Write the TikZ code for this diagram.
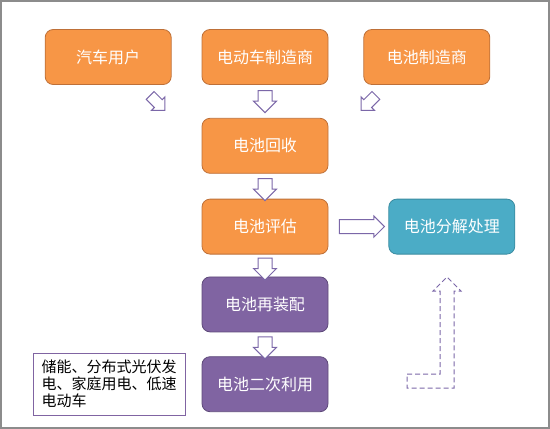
\documentclass[tikz,border=0pt]{standalone}
\usepackage{fontspec}
\setmainfont{Noto Sans CJK SC}
\usepackage{tikz}
\usetikzlibrary{shapes.arrows,positioning,calc}
\definecolor{boxOrange}{HTML}{F79646}
\definecolor{boxOrangeDark}{HTML}{BE7038}
\definecolor{boxPurple}{HTML}{8064A2}
\definecolor{boxPurpleDark}{HTML}{5E4A7A}
\definecolor{boxTeal}{HTML}{4BACC6}
\definecolor{boxTealDark}{HTML}{3A8BA0}
\definecolor{flowPurple}{HTML}{7B67A8}
\definecolor{frameGray}{HTML}{8C8C8C}

\begin{document}
\begin{tikzpicture}[
    x=1pt, y=-1pt,
    font=\fontsize{16}{19}\selectfont,
    box/.style={draw, rectangle, rounded corners=8pt, minimum height=55pt, minimum width=126pt, align=center, text=white, line width=0.8pt},
    orangebox/.style={box, fill=boxOrange, draw=boxOrangeDark},
    purplebox/.style={box, fill=boxPurple, draw=boxPurpleDark},
    tealbox/.style={box, fill=boxTeal, draw=boxTealDark},
    notebox/.style={draw=boxPurple, rectangle, line width=0.8pt, minimum height=62pt, minimum width=152pt, inner xsep=7pt, align=left, font=\fontsize{15}{17}\selectfont},
    flow/.style={single arrow, draw=flowPurple, fill=white, line width=1pt, inner xsep=0pt, inner ysep=6.5pt, minimum height=22pt, single arrow head extend=4.5pt},
    smallflow/.style={flow, inner ysep=5pt, minimum height=21pt, single arrow head extend=4pt}
]
    \useasboundingbox (0,0) rectangle (550,429);
    \draw[frameGray, line width=2pt] (1,1) rectangle (549,428);

    % Top row
    \node[orangebox] (evmaker) at (265,57) {电动车制造商};
    \node[orangebox, left=30pt of evmaker] (user) {汽车用户};
    \node[orangebox, right=35pt of evmaker] (batmaker) {电池制造商};

    % Main chain
    \node[orangebox, below=33pt of evmaker] (recycle) {电池回收};
    \node[orangebox, below=25pt of recycle] (assess) {电池评估};
    \node[tealbox, right=60pt of assess] (dismantle) {电池分解处理};
    \node[purplebox, below=22pt of assess] (reassemble) {电池再装配};
    \node[purplebox, below=24pt of reassemble] (reuse) {电池二次利用};
    \node[notebox, left=16pt of reuse] (usage) {储能、分布式光伏发\\电、家庭用电、低速\\电动车};

    % Block arrows
    \node[smallflow, rotate=-45] (f1) at ($(user.south east)+(-16,16)$) {};
    \node[flow, rotate=-90] (f2) at ($(evmaker.south)!0.4!(recycle.north)$) {};
    \node[smallflow, rotate=-135] (f3) at ($(batmaker.south west)+(7,16)$) {};
    \node[flow, rotate=-90] (f4) at ($(recycle.south)!0.5!(assess.north)$) {};
    \node[flow, minimum height=45pt, single arrow head extend=3.5pt] (f5) at ($(assess.east)!0.5!(dismantle.west)$) {};
    \node[flow, rotate=-90] (f6) at ($(assess.south)!0.5!(reassemble.north)$) {};
    \node[flow, rotate=-90] (f7) at ($(reassemble.south)!0.5!(reuse.north)$) {};

    % Dashed bent arrow
    \draw[flowPurple, line width=1pt, dash pattern=on 5pt off 3pt]
        (407,374) -- (440,374) -- (440,291) -- (433,291) -- (447,277)
        -- (461,291) -- (454,291) -- (454,388) -- (407,388) -- cycle;
\end{tikzpicture}
\end{document}
